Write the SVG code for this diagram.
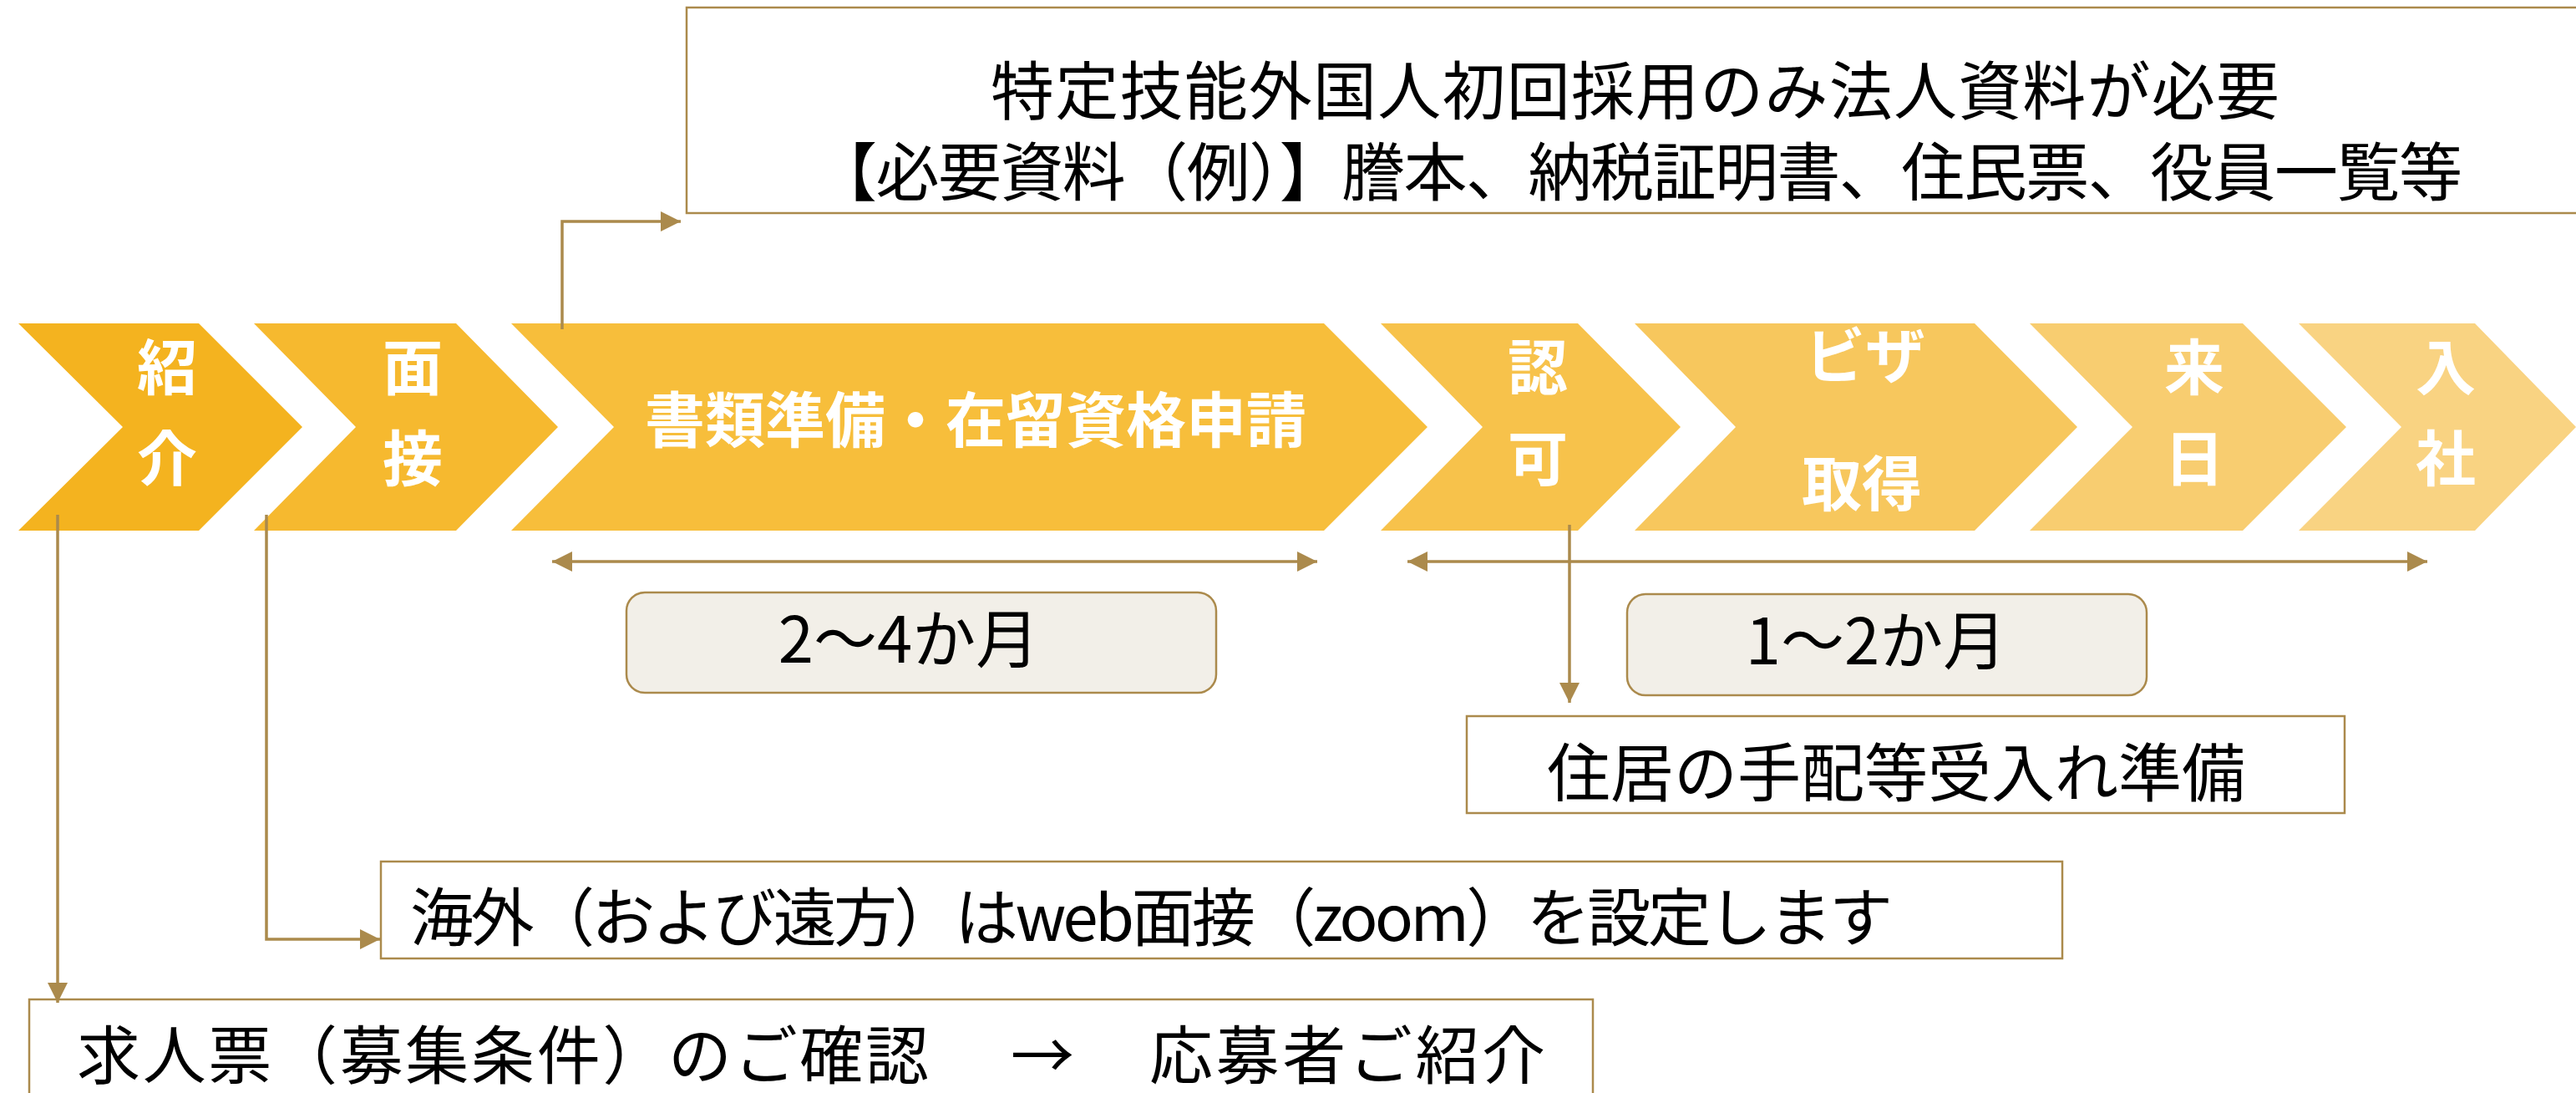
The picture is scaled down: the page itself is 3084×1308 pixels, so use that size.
<svg xmlns="http://www.w3.org/2000/svg" width="3084" height="1308" viewBox="0 0 3084 1308">
<style>
.t{font-family:"Noto Sans CJK JP","Noto Sans",sans-serif;fill:#000;font-size:76px}
.w{font-family:"Noto Sans CJK JP","Noto Sans",sans-serif;fill:#fff;font-size:72px;font-weight:bold;text-anchor:middle}
.box{fill:#fff;stroke:#AB8A4C;stroke-width:2.5}
.pill{fill:#F2EFE8;stroke:#AB8A4C;stroke-width:2.5}
.c{fill:none;stroke:#AB8A4C;stroke-width:3.5}
</style>
<defs>
<marker id="ah" viewBox="0 0 24 24" refX="24" refY="12" markerWidth="24" markerHeight="24" markerUnits="userSpaceOnUse" orient="auto-start-reverse">
<path d="M0,0 L24,12 L0,24 z" fill="#AB8A4C"/>
</marker>
</defs>
<rect width="3084" height="1308" fill="#fff"/>
<g id="chevron-shokai"><polygon points="22,387 238,387 362,511 238,635 22,635 147,511" fill="#F4B31F"/><text class="w" x="200" y="466">紹</text><text class="w" x="200" y="575">介</text></g>
<g id="chevron-mensetsu"><polygon points="304,387 546,387 668,511 546,635 304,635 426,511" fill="#F6B92F"/><text class="w" x="494" y="466">面</text><text class="w" x="494" y="575">接</text></g>
<g id="chevron-shinsei"><polygon points="612,387 1585,387 1709,511 1585,635 612,635 735,511" fill="#F7BE3B"/><text class="w" x="1168" y="529">書類準備・在留資格申請</text></g>
<g id="chevron-ninka"><polygon points="1653,387 1889,387 2012,511 1889,635 1653,635 1775,511" fill="#F7C24B"/><text class="w" x="1841" y="466">認</text><text class="w" x="1841" y="575">可</text></g>
<g id="chevron-visa"><polygon points="1957,387 2364,387 2487,511 2364,635 1957,635 2078,511" fill="#F7C75D"/><text class="w" x="2233" y="452">ビザ</text><text class="w" x="2229" y="605">取得</text></g>
<g id="chevron-rainichi"><polygon points="2430,387 2685,387 2809,511 2685,635 2430,635 2553,511" fill="#F8CD70"/><text class="w" x="2627" y="466">来</text><text class="w" x="2627" y="575">日</text></g>
<g id="chevron-nyusha"><polygon points="2752,387 2963,387 3084,511 2963,635 2752,635 2875,511" fill="#F9D382"/><text class="w" x="2928" y="466">入</text><text class="w" x="2928" y="575">社</text></g>
<g id="note-documents"><rect class="box" x="822" y="9" width="2280" height="246"/><text class="t"><tspan x="1186" y="137" textLength="1543" lengthAdjust="spacing">特定技能外国人初回採用のみ法人資料が必要</tspan><tspan x="974" y="234" textLength="1974" lengthAdjust="spacing">【必要資料（例）】謄本、納税証明書、住民票、役員一覧等</tspan></text></g>
<g id="period-1"><rect class="pill" x="750" y="709" width="706" height="120" rx="22"/><text class="t" x="1088" y="793" text-anchor="middle">2～4か月</text></g>
<g id="period-2"><rect class="pill" x="1948" y="711" width="622" height="121" rx="22"/><text class="t" x="2246" y="795" text-anchor="middle">1～2か月</text></g>
<g id="note-housing"><rect class="box" x="1756" y="857" width="1051" height="116"/><text class="t" x="2270" y="953" text-anchor="middle">住居の手配等受入れ準備</text></g>
<g id="note-web"><rect class="box" x="456" y="1031" width="2013" height="116"/><text class="t" x="491" y="1126" font-size="74" textLength="1775" lengthAdjust="spacing">海外（および遠方）はweb面接（zoom）を設定します</text></g>
<g id="note-jobs"><rect class="box" x="35" y="1196" width="1872" height="140"/><text class="t" y="1291" font-size="78"><tspan x="92" textLength="1020" lengthAdjust="spacing">求人票（募集条件）のご確認</tspan><tspan x="1210">→</tspan><tspan x="1376" textLength="474" lengthAdjust="spacing">応募者ご紹介</tspan></text></g>
<g id="connectors">
<path class="c" d="M69,616 V1200" marker-end="url(#ah)"/>
<path class="c" d="M319,616 V1124 H455" marker-end="url(#ah)"/>
<path class="c" d="M673,394 V265 H815" marker-end="url(#ah)"/>
<path class="c" d="M1879,628 V841" marker-end="url(#ah)"/>
<path class="c" d="M661,672 H1577" marker-start="url(#ah)" marker-end="url(#ah)"/>
<path class="c" d="M1685,672 H2906" marker-start="url(#ah)" marker-end="url(#ah)"/>
</g>
</svg>
